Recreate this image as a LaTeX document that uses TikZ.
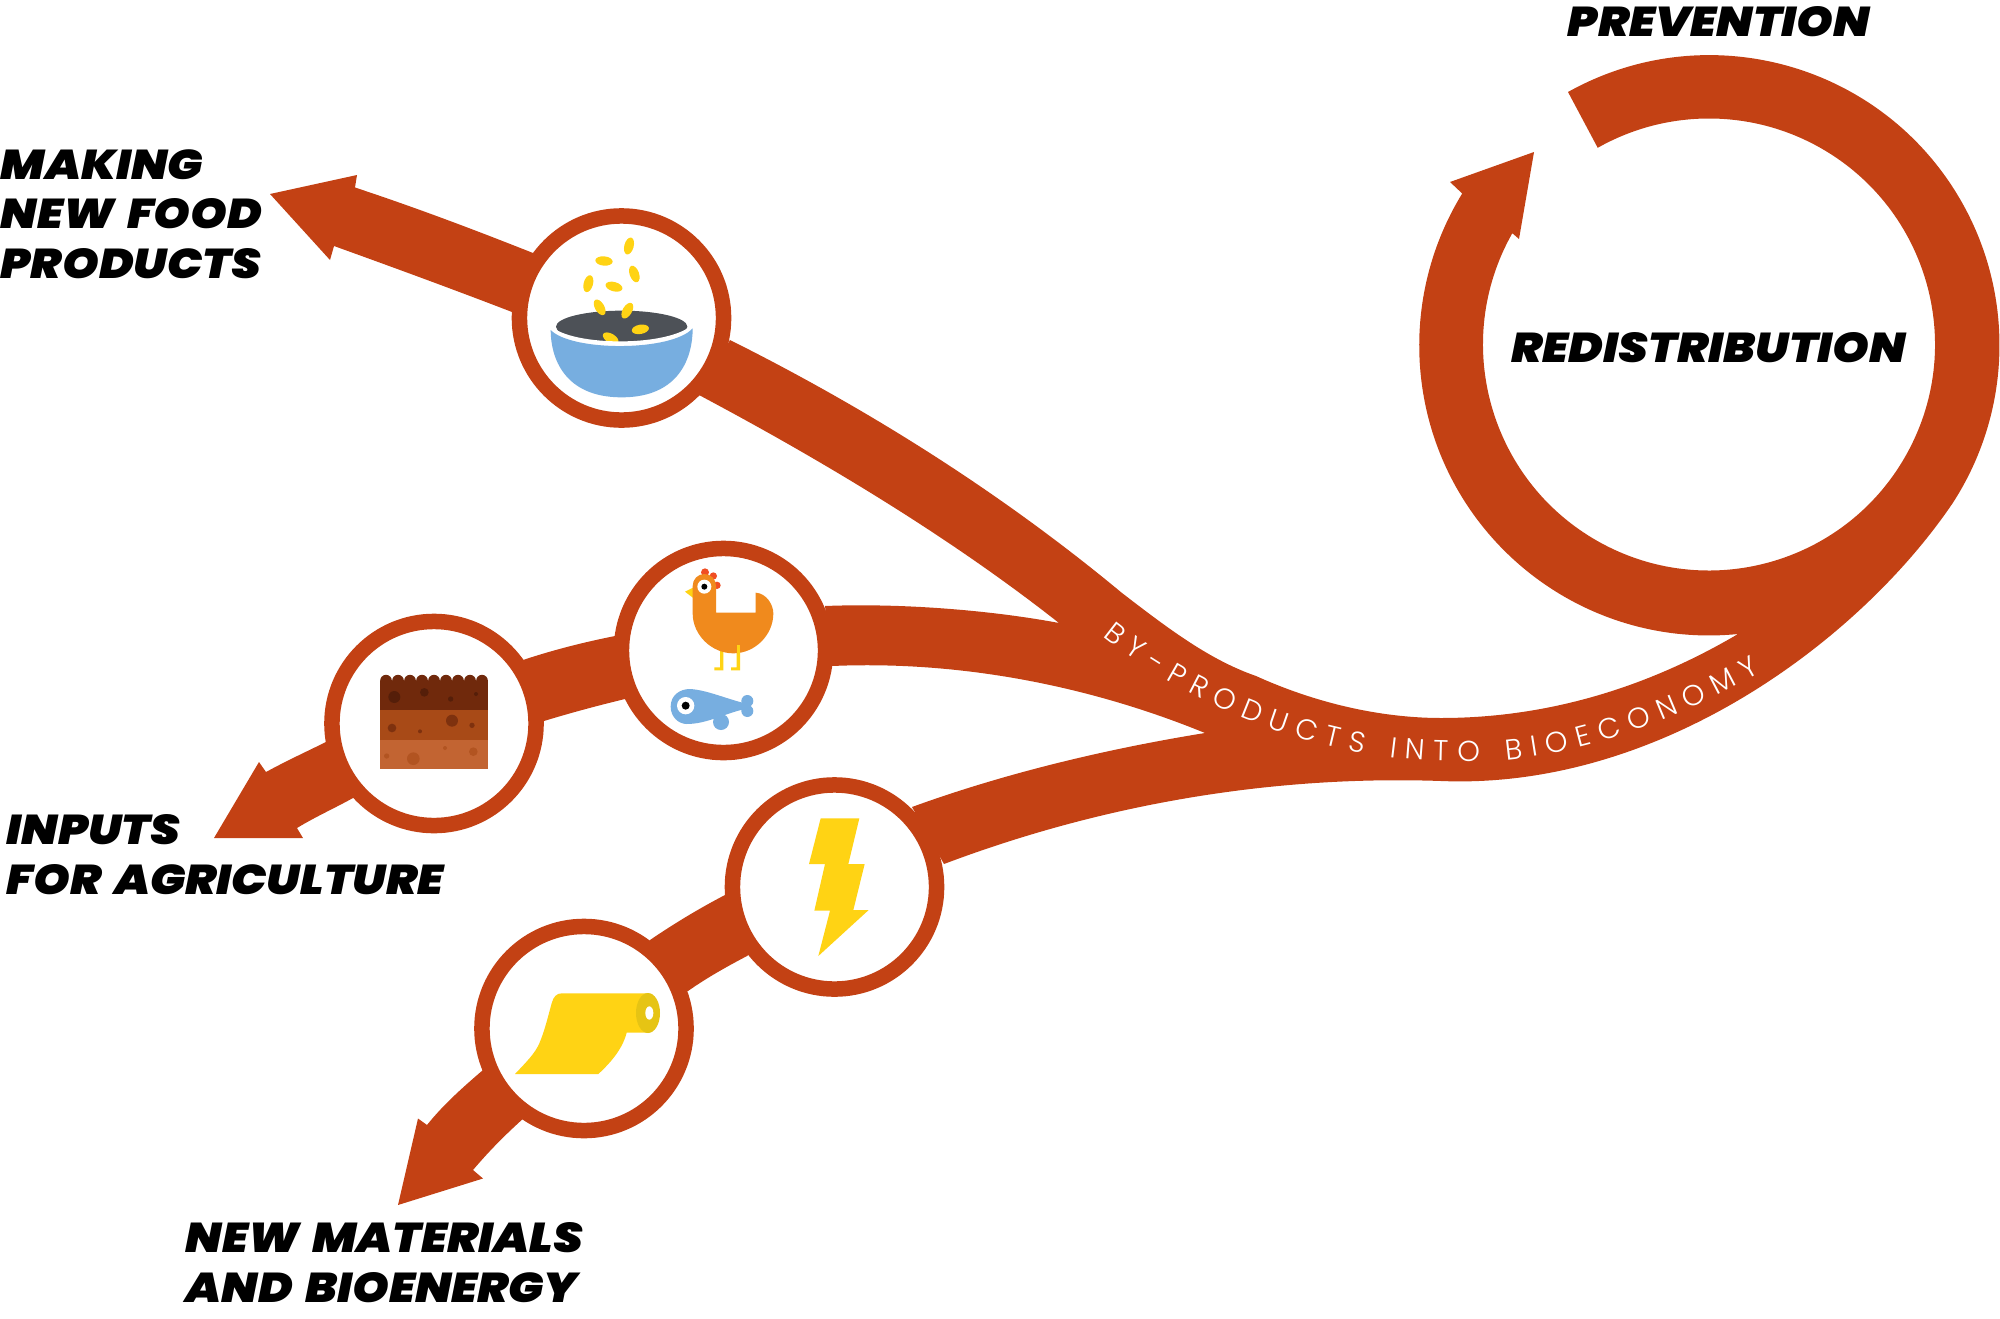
\documentclass[tikz,border=0pt]{standalone}
\usepackage{fontspec}
\usetikzlibrary{decorations.text}
\newfontfamily\labelfont[FakeStretch=1.12,WordSpace=1.6]{Poppins Black Italic}
\newfontfamily\bandfont{Poppins Light}
\definecolor{rust}{HTML}{C34114}
\definecolor{grain}{HTML}{FFD314}
\definecolor{bowlblue}{HTML}{77AEE0}
\definecolor{slate}{HTML}{4D5157}
\definecolor{hen}{HTML}{F08A1D}
\definecolor{comb}{HTML}{F04E23}
\definecolor{soilA}{HTML}{70290C}
\definecolor{soilB}{HTML}{A84A17}
\definecolor{soilC}{HTML}{C26432}
\definecolor{rollend}{HTML}{E6C414}
\tikzset{
  hub/.style={circle,draw=rust,fill=white,line width=.155cm,minimum size=2.04cm,inner sep=0pt},
  caption/.style={font=\labelfont\fontsize{11.85}{11}\selectfont,text=black,align=left,inner sep=0pt},
  grainseed/.style={fill=grain},
  icon/.style={x=.01cm/3,y=-.01cm/3},
}
\newcommand{\seed}[3]{\fill[grainseed] (#1,#2) ellipse[x radius=26,y radius=14,rotate=#3];}
\begin{document}
\begin{tikzpicture}[x=.01cm,y=-.01cm]
\useasboundingbox (0,0) rectangle (2000,1318);

% main band: ring, arrow and the three outgoing branches
\fill[rust] (1568,92) arc[start angle=-119.2,end angle=33,radius=290]
  .. controls (1860,640) and (1660,790) .. (1441,781)
  .. controls (1270,775) and (1100,805) .. (944,864)
  -- (912,807)
  .. controls (1000,775) and (1100,750) .. (1205,733)
  .. controls (1100,690) and (970,660) .. (832,666)
  -- (825,606)
  .. controls (900,603) and (990,610) .. (1059,623)
  .. controls (960,545) and (840,470) .. (699,395)
  -- (730,340)
  .. controls (880,415) and (1010,500) .. (1122,593)
  .. controls (1170,630) and (1210,660) .. (1256,676)
  .. controls (1320,705) and (1385,718) .. (1441,718)
  .. controls (1560,718) and (1660,680) .. (1738,634)
  arc[start angle=84.3,end angle=211.6,radius=290]
  -- (1450,182) -- (1534,152) -- (1519,239) -- (1512.3,233.2)
  arc[start angle=209.5,end angle=-119.5,radius=226]
  -- cycle;

% food branch
\fill[rust] (620,318) -- (533,253) .. controls (480,232) and (420,209) .. (355,187.5)
  -- (357,175) -- (270,194) -- (330,260) -- (334,246)
  .. controls (395,268) and (455,290) .. (512,312) -- cycle;
% agriculture branch
\fill[rust] (723,650) -- (615,636) .. controls (580,643) and (550,651) .. (523,660)
  -- (434,723) -- (544,721) .. controls (570,713) and (600,705) .. (625,699) -- cycle;
\fill[rust] (434,723) -- (330,740) .. controls (310,750) and (288,760) .. (266,772)
  -- (259,762) -- (214,838) -- (303,838) -- (297,828)
  .. controls (315,817) and (335,808) .. (353,798) -- cycle;
% materials branch
\fill[rust] (834,887) -- (725,895) .. controls (700,908) and (675,923) .. (650,940)
  -- (584,1028) -- (688,991) .. controls (708,977) and (728,966) .. (747,956) -- cycle;
\fill[rust] (584,1028) -- (483,1070) .. controls (462,1088) and (443,1105) .. (427,1125)
  -- (418,1118.5) -- (398,1205) -- (483,1178.5) -- (473,1170)
  .. controls (490,1150) and (506,1134) .. (525,1117) -- cycle;

% icon discs
\node[hub] (foodhub) at (621.5,318) {};
\node[hub] (feedhub) at (723.5,650.5) {};
\node[hub] (soilhub) at (434,723.5) {};
\node[hub] (powerhub) at (834.5,887) {};
\node[hub] (rollhub) at (584,1028.5) {};

% bowl of falling grain
\begin{scope}[shift={(500,190)},icon]
  \fill[slate] (365,410) ellipse[x radius=197,y radius=48];
  \seed{387}{168}{75} \seed{312}{213}{-5} \seed{403}{252}{-70}
  \seed{265}{281}{75} \seed{342}{290}{-15} \seed{299}{352}{-60}
  \seed{382}{362}{60} \seed{421}{418}{10} \seed{332}{445}{-30}
  \draw[white,line width=.04cm] (148,412) .. controls (215,477) and (515,477) .. (582,407);
  \fill[bowlblue]
    (152,420) .. controls (215,485) and (515,485) .. (578,415)
    .. controls (578,500) and (540,622) .. (365,622)
    .. controls (190,622) and (152,500) .. (152,420) -- cycle;
\end{scope}

% hen and fish
\begin{scope}[shift={(320,530)},icon]
  \fill[comb] (1155,127) circle[radius=12] (1180,138) circle[radius=11] (1191,166) circle[radius=11];
  \fill[grain] (1125,170) -- (1095,185) -- (1125,208) -- cycle;
  \fill[grain] (1200,360) rectangle (1210,421) (1183,412) rectangle (1210,421)
               (1250,345) rectangle (1260,421) (1233,412) rectangle (1260,421);
  \fill[hen] (1118,168) .. controls (1118,148) and (1133,132) .. (1153,132)
    .. controls (1173,132) and (1188,148) .. (1188,168) -- (1188,248) -- (1307,248) -- (1307,188)
    .. controls (1340,190) and (1360,225) .. (1360,250)
    .. controls (1360,315) and (1305,370) .. (1240,370)
    .. controls (1175,370) and (1118,315) .. (1118,250) -- cycle;
  \fill[grain] (1250,345) rectangle (1260,370);
  \fill[white] (1153,170) circle[radius=21];
  \fill[black] (1153,170) circle[radius=9];
  \fill[bowlblue] (1203,576) circle[radius=24] (1282,513) circle[radius=18] (1282,543) circle[radius=18];
  \fill[bowlblue] (1052,530) .. controls (1052,495) and (1080,477) .. (1110,477)
    .. controls (1160,480) and (1215,505) .. (1275,520)
    -- (1275,537) .. controls (1215,550) and (1160,582) .. (1100,582)
    .. controls (1075,582) and (1052,560) .. (1052,530) -- cycle;
  \fill[white] (1097,527) circle[radius=26];
  \fill[black] (1097,527) circle[radius=12];
\end{scope}

% soil profile
\begin{scope}[shift={(320,530)},icon]
  \fill[soilA] (180,452) rectangle (504,541);
  \foreach \cx in {198,234,270,306,342,378,414,450,486}
    \fill[soilA] (\cx,452) circle[radius=17.5];
  \fill[soilB] (180,541) rectangle (504,630);
  \fill[soilC] (180,630) rectangle (504,718);
  \fill[soilA!60!black,opacity=.6] (223,501) circle[radius=18] (313,487) circle[radius=13]
    (392,507) circle[radius=8] (468,492) circle[radius=6];
  \fill[soilA,opacity=.75] (216,594) circle[radius=13] (396,572) circle[radius=18]
    (456,586) circle[radius=8] (300,604) circle[radius=6];
  \fill[soilB,opacity=.6] (280,686) circle[radius=19] (460,665) circle[radius=13]
    (200,678) circle[radius=8] (375,654) circle[radius=6];
\end{scope}

% lightning bolt and paper roll
\begin{scope}[shift={(470,770)},icon]
  \fill[grain] (1052,145) -- (1168,145) -- (1135,282) -- (1184,282) -- (1150,420) -- (1196,420)
    -- (1045,558) -- (1080,422) -- (1033,422) -- (1065,282) -- (1017,282) -- cycle;
  \fill[grain] (275,670) -- (535,670) -- (535,788) -- (470,788)
    .. controls (458,835) and (425,875) .. (385,912) -- (135,912)
    .. controls (170,875) and (195,850) .. (208,820)
    .. controls (225,780) and (235,735) .. (245,700)
    .. controls (250,680) and (260,670) .. (275,670) -- cycle;
  \fill[rollend] (534,729) ellipse[x radius=36,y radius=60];
  \fill[white] (538,729) ellipse[x radius=12,y radius=20];
\end{scope}

% lettering along the band
\path[decorate,decoration={text along path,
    text={|\bandfont\fontsize{8.2}{8.2}\selectfont\color{white}|BY-PRODUCTS INTO BIOECONOMY},
    text align={fit to path}}]
  (1103,636) .. controls (1185,702) and (1310,758) .. (1442,761)
  .. controls (1550,769) and (1670,725) .. (1760,672);

% captions
\node[caption,anchor=base west] (prevention) at (1567,36) {PREVENTION};
\node[caption,anchor=base west] (redistribution) at (1511,362) {REDISTRIBUTION};
\node[caption,anchor=base west] (makingfood) at (0,278) {MAKING\\[3pt]NEW FOOD\\[3pt]PRODUCTS};
\node[caption,anchor=base west] (agriinputs) at (6,894) {INPUTS\\[3pt]FOR AGRICULTURE};
\node[caption,anchor=base west] (materials) at (185,1302) {NEW MATERIALS\\[3pt]AND BIOENERGY};
\end{tikzpicture}
\end{document}
